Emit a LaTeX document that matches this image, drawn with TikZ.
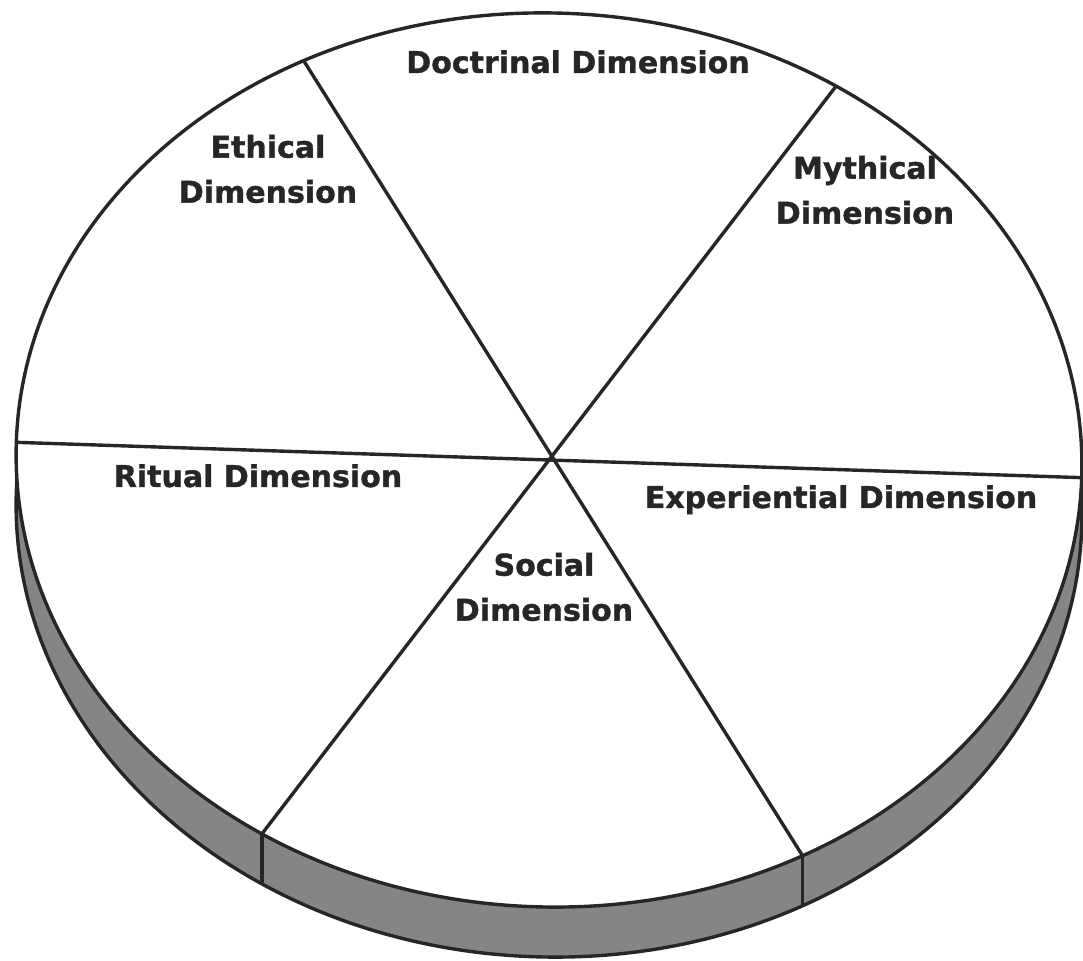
\documentclass[tikz,border=0pt]{standalone}
\usepackage{fontspec}
\setmainfont{DejaVu Sans}[BoldFeatures={FakeBold=1.2}]
\begin{document}
\begin{tikzpicture}[x=1pt,y=1pt,
  edge/.style={draw=black!85, line width=3.4pt},
  lbl/.style={font=\fontsize{30}{45}\selectfont\bfseries, text=black!85, inner sep=0pt, align=center}]
\useasboundingbox (0,0) rectangle (1083,960);
\fill[white] (0,0) rectangle (1083,960);
% rim (lower shifted ellipse)
\begin{scope}[shift={(549,450)}, rotate=-1.9]
  \filldraw[fill=black!48, edge] (0,0) ellipse [x radius=533, y radius=447];
\end{scope}
% top face
\begin{scope}[shift={(549,500)}, rotate=-1.9]
  \filldraw[fill=white, edge] (0,0) ellipse [x radius=533, y radius=447];
  \coordinate (c) at (0,0);
  \foreach \a/\n in {0/e,59/ne,119/nw,180/w,239/sw,300/se}
    \coordinate (\n) at (\a:533 and 447);
\end{scope}
% rim separators
\path (sw) ++(0,-50) coordinate (swb);
\path (se) ++(0,-50) coordinate (seb);
\draw[edge] (sw) -- (swb);
\draw[edge] (se) -- (seb);
% dividers
\draw[edge] (w) -- (e);
\draw[edge] (nw) -- (se);
\draw[edge] (ne) -- (sw);
% labels
\node[lbl, anchor=base] (doc) at (578,887) {Doctrinal Dimension};
\node[lbl] (eth) at (268,791) {Ethical\\Dimension};
\node[lbl] (myth) at (865,770) {Mythical\\Dimension};
\node[lbl, anchor=base] (rit) at (258,473) {Ritual Dimension};
\node[lbl, anchor=base] (exp) at (841,452) {Experiential Dimension};
\node[lbl] (soc) at (544,373) {Social\\Dimension};
\end{tikzpicture}
\end{document}
